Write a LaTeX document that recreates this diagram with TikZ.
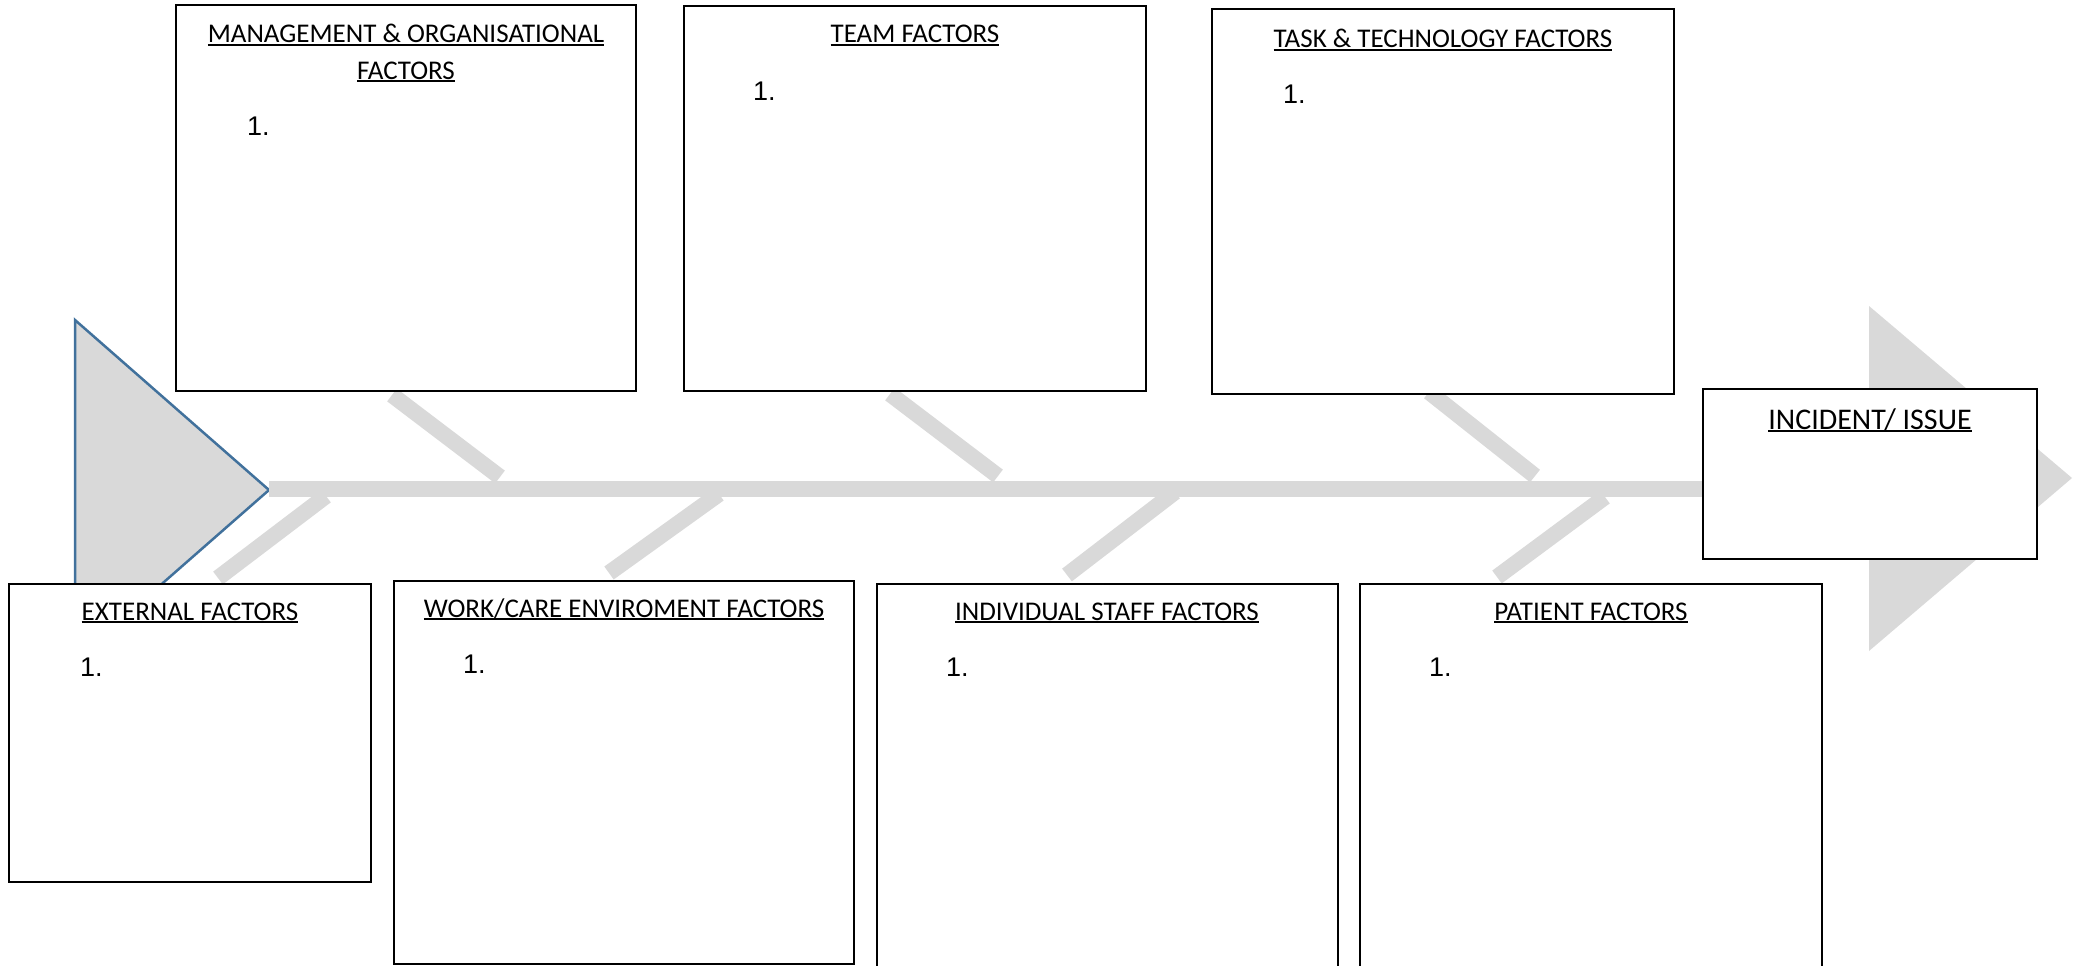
\documentclass[tikz,border=0pt]{standalone}
\usepackage{fontspec}
\setmainfont{Carlito}
\newfontfamily\arialf{Liberation Sans}
\definecolor{fishgray}{HTML}{D9D9D9}
\definecolor{tailblue}{HTML}{41719C}
\newcommand{\myul}[1]{\setbox0\hbox{#1}\rlap{\rule[-3.2pt]{\wd0}{1.8pt}}\box0}
\begin{document}
\begin{tikzpicture}[x=1pt,y=-1pt,
  fbox/.style={draw=black, line width=1.3pt, fill=white, inner sep=0pt, outer sep=0pt, anchor=north west},
  headtxt/.style={font=\fontsize{27}{32}\selectfont, anchor=base, inner sep=0pt},
  bighead/.style={font=\fontsize{30}{36}\selectfont, anchor=base, inner sep=0pt},
  itemtxt/.style={font=\arialf\fontsize{27}{32}\selectfont, anchor=base west, inner sep=0pt},
  bone/.style={draw=fishgray, line width=16pt},
  fin/.style={fill=fishgray}]
\useasboundingbox (0,0) rectangle (2080,966);
\clip (0,0) rectangle (2080,966);
% tail
\draw[fin, draw=tailblue, line width=2.5pt] (75,320) -- (269,490) -- (75,660) -- cycle;
% spine
\coordinate (sp1) at (269,489);
\coordinate (sp2) at (1880,489);
\draw[bone] (sp1) -- (sp2);
% head
\fill[fishgray] (1869,306) -- (2072,478) -- (1869,651) -- cycle;
% bones upper
\coordinate (u1a) at (392,395); \coordinate (u1b) at (500,477);
\coordinate (u2a) at (890,394); \coordinate (u2b) at (998,476);
\coordinate (u3a) at (1429,392); \coordinate (u3b) at (1535,476);
\draw[bone] (u1a) -- (u1b);
\draw[bone] (u2a) -- (u2b);
\draw[bone] (u3a) -- (u3b);
% bones lower
\coordinate (l1a) at (326,496); \coordinate (l1b) at (218,578);
\coordinate (l2a) at (719,494); \coordinate (l2b) at (609,573);
\coordinate (l3a) at (1175,492); \coordinate (l3b) at (1067,575);
\coordinate (l4a) at (1605,497); \coordinate (l4b) at (1497,577);
\draw[bone] (l1a) -- (l1b);
\draw[bone] (l2a) -- (l2b);
\draw[bone] (l3a) -- (l3b);
\draw[bone] (l4a) -- (l4b);
% boxes
\node[fbox, minimum width=460pt, minimum height=386pt] (mgmt) at (176,5) {};
\node[fbox, minimum width=462pt, minimum height=385pt] (team) at (684,6) {};
\node[fbox, minimum width=462pt, minimum height=385pt] (task) at (1212,9) {};
\node[fbox, minimum width=362pt, minimum height=298pt] (ext) at (9,584) {};
\node[fbox, minimum width=460pt, minimum height=383pt] (work) at (394,581) {};
\node[fbox, minimum width=461pt, minimum height=400pt] (indiv) at (877,584) {};
\node[fbox, minimum width=462pt, minimum height=400pt] (pat) at (1360,584) {};
\node[fbox, minimum width=334pt, minimum height=170pt] (inc) at (1703,389) {};
% headings
\node[headtxt] (mgmtH1) at (406,43) {\myul{MANAGEMENT \& ORGANISATIONAL}};
\node[headtxt] (mgmtH2) at (406,79) {\myul{FACTORS}};
\node[itemtxt] (mgmtI) at (247,135) {1.};
\node[headtxt] (teamH) at (915,43) {\myul{TEAM FACTORS}};
\node[itemtxt] (teamI) at (753,100) {1.};
\node[headtxt] (taskH) at (1443,48) {\myul{TASK \& TECHNOLOGY FACTORS}};
\node[itemtxt] (taskI) at (1283,103) {1.};
\node[headtxt] (extH) at (190,620) {\myul{EXTERNAL FACTORS}};
\node[itemtxt] (extI) at (80,676) {1.};
\node[headtxt] (workH) at (624,617) {\myul{WORK/CARE ENVIROMENT FACTORS}};
\node[itemtxt] (workI) at (463,673) {1.};
\node[headtxt] (indivH) at (1107,620) {\myul{INDIVIDUAL STAFF FACTORS}};
\node[itemtxt] (indivI) at (946,676) {1.};
\node[headtxt] (patH) at (1591,620) {\myul{PATIENT FACTORS}};
\node[itemtxt] (patI) at (1429,676) {1.};
\node[bighead] (incH) at (1870,429) {\myul{INCIDENT/ ISSUE}};
\end{tikzpicture}
\end{document}
